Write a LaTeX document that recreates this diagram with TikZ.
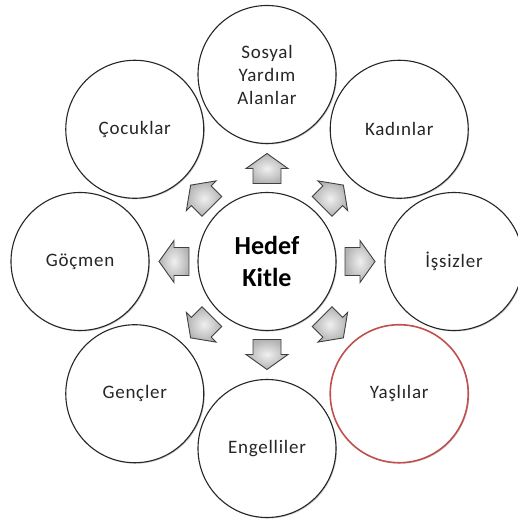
\documentclass[tikz,border=0pt]{standalone}
\usepackage{fontspec}
\setmainfont{Carlito}
\usepackage{xcolor}
\usepackage{tikz}
\usetikzlibrary{shadows}

\definecolor{rimred}{RGB}{192,80,77}

\begin{document}
\begin{tikzpicture}[x=1pt, y=1pt,
    group/.style={circle, draw=black!85, line width=1.1pt, fill=white,
        minimum size=138pt, inner sep=0pt, align=center, text=black!85,
        font=\addfontfeature{LetterSpace=4}\fontsize{19}{23}\selectfont,
        drop shadow={shadow xshift=1pt, shadow yshift=-1pt, opacity=0.35, fill=black!60}},
    pointer/.pic={
        \draw[draw=black!75, line width=0.9pt, inner color=black!6, outer color=black!30, line join=miter]
            (-15,-14) -- (0,-14) -- (0,-21) -- (15,0) -- (0,21) -- (0,14) -- (-15,14) -- cycle;
    }]
    \useasboundingbox (-267,-259.5) rectangle (250,261.5);
    % centre
    \node[group, text=black, font=\bfseries\fontsize{26}{32}\selectfont] (kitle) at (0,0) {Hedef\\Kitle};
    % ring of groups
    \node[group] (sosyal) at (90:187) {Sosyal\\Yardım\\Alanlar};
    \node[group] (kadin) at (45:187) {Kadınlar};
    \node[group] (issiz) at (0:187) {İşsizler};
    \node[group, draw=rimred, line width=1.6pt] (yasli) at (-45:187) {Yaşlılar};
    \node[group] (engelli) at (-90:187) {Engelliler};
    \node[group] (genc) at (-135:187) {Gençler};
    \node[group] (gocmen) at (180:187) {Göçmen};
    \node[group] (cocuk) at (135:187) {Çocuklar};
    % arrows out of the centre
    \foreach \ang/\nm in {90/up, 45/ur, 0/r, -45/dr, -90/dn, -135/dl, 180/l, 135/ul}
        \pic[rotate=\ang] (arr\nm) at (\ang:93) {pointer};
\end{tikzpicture}
\end{document}
